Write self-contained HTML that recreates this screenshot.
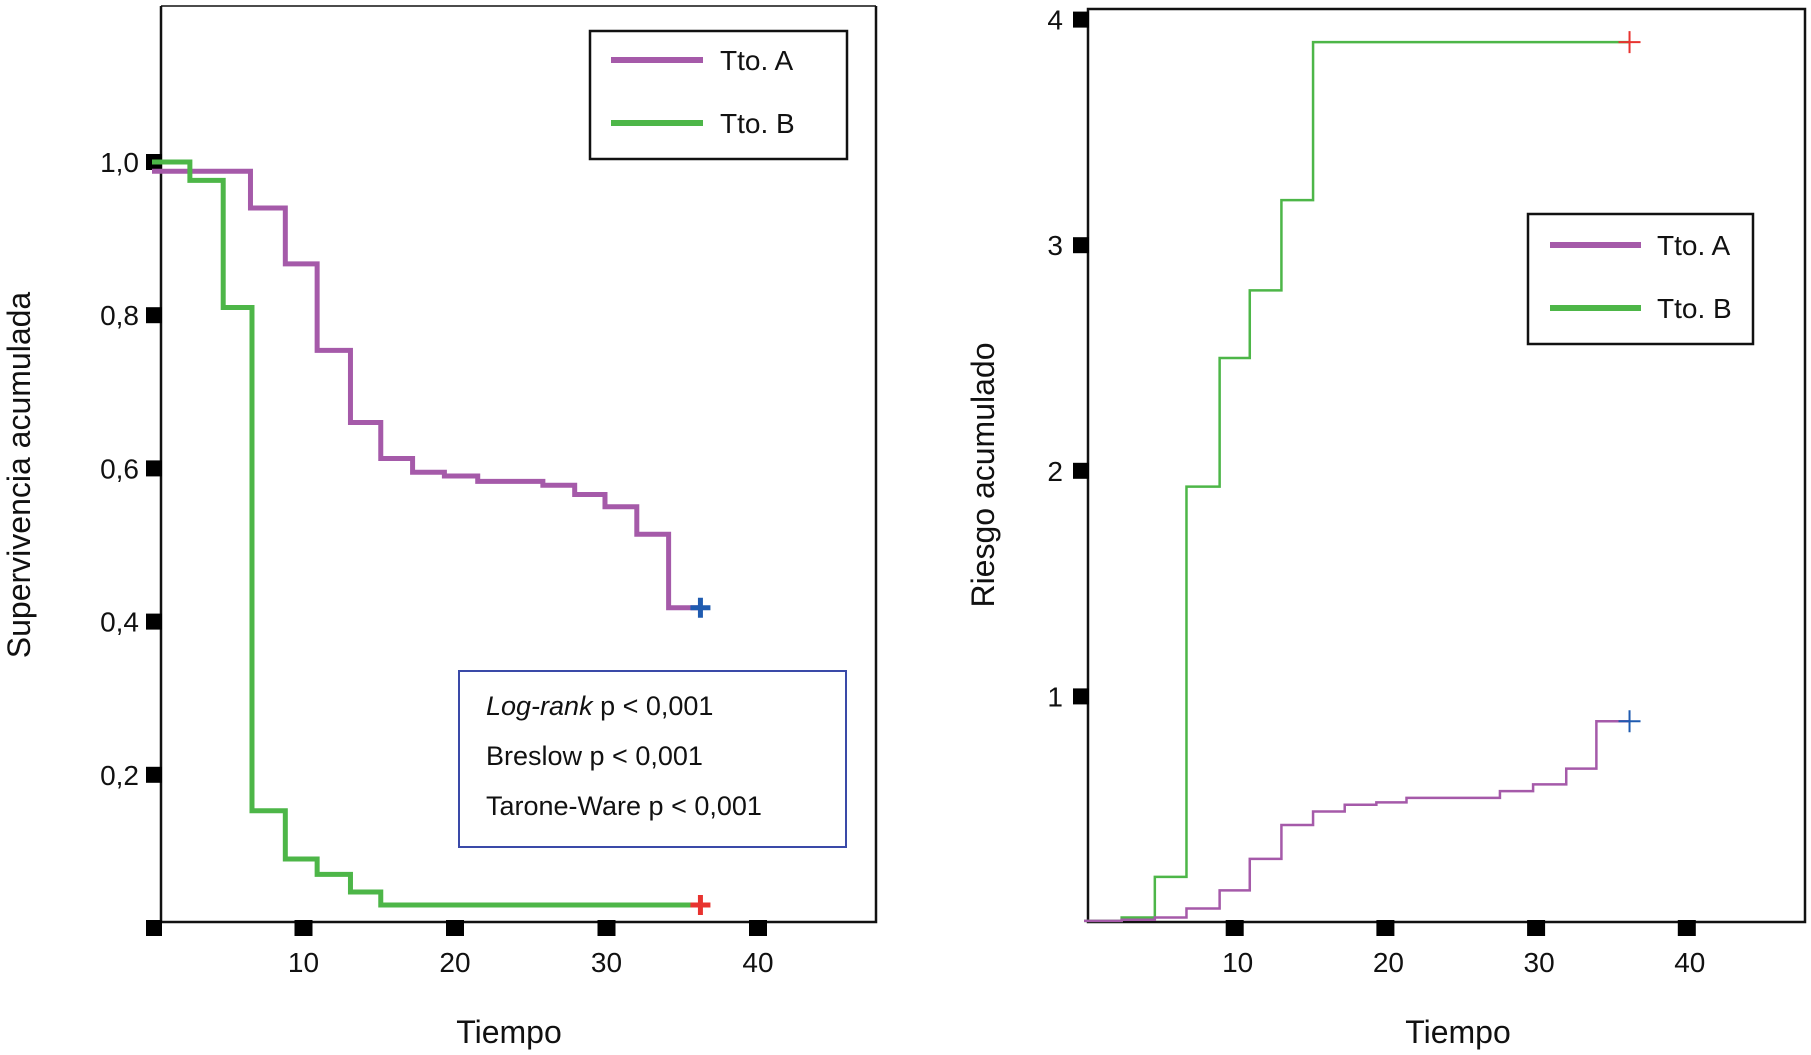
<!DOCTYPE html>
<html><head><meta charset="utf-8"><style>
html,body{margin:0;padding:0;background:#fff;}
svg{display:block;font-family:"Liberation Sans",sans-serif;}
</style></head><body>
<svg id="c" width="1811" height="1055" viewBox="0 0 1811 1055"></svg>
<script>
// Left chart: Kaplan-Meier survival
const survTimesA=[0,6.5,8.8,10.9,13.1,15.1,17.2,19.3,21.5,25.8,27.9,29.9,32,34.1];
const survValsA=[0.988,0.94,0.867,0.754,0.66,0.613,0.595,0.59,0.583,0.578,0.566,0.55,0.514,0.418];
const survTimesB=[0,2.5,4.7,6.6,8.8,10.9,13.1,15.1];
const survValsB=[1.0,0.976,0.81,0.153,0.09,0.07,0.047,0.03];
const survEnd=36.2;
const survYTicks=[0.2,0.4,0.6,0.8,1.0];
const survYLabels=["0,2","0,4","0,6","0,8","1,0"];
const xTicks=[10,20,30,40];
// Right chart: cumulative hazard
const hazTimesA=[0,2.5,4.7,6.8,9,11,13.1,15.2,17.3,19.4,21.4,27.6,29.8,32,34];
const hazValsA=[0.005,0.01,0.02,0.06,0.14,0.28,0.43,0.49,0.52,0.53,0.55,0.58,0.61,0.68,0.89];
const hazTimesB=[0,2.5,4.7,6.8,9,11,13.1,15.2];
const hazValsB=[0.005,0.02,0.2,1.93,2.5,2.8,3.2,3.9];
const hazEnd=36.2;
const hazYTicks=[1,2,3,4];

const NS="http://www.w3.org/2000/svg";
const svg=document.getElementById('c');
function mk(tag,attrs,parent){const e=document.createElementNS(NS,tag);for(const k in attrs)e.setAttribute(k,attrs[k]);(parent||svg).appendChild(e);return e;}
const PURPLE="#a55aa9",GREEN="#4db648";

const lx=t=>152+15.15*t, ly=v=>928-766*v;
const rx=t=>1084+15.07*t, ry=v=>922-225.6*v;

function stepPath(ts,vs,end,X,Y){let d="M"+X(ts[0])+","+Y(vs[0]);for(let i=1;i<ts.length;i++){d+=" H"+X(ts[i])+" V"+Y(vs[i]);}d+=" H"+X(end);return d;}
function cross(x,y,s,col,w,name){const g=mk('g',{});mk('path',{d:`M${x-s},${y}H${x+s}M${x},${y-s}V${y+s}`,stroke:col,'stroke-width':w,fill:'none'},g);}
function text(x,y,str,attrs,name){const e=mk('text',Object.assign({x:x,y:y,'font-size':28,fill:'#111'},attrs));e.textContent=str;return e;}

// ---- left chart ----
let g=mk('g',{});
mk('path',{d:"M161,6 V922 H876 V6",stroke:'#111','stroke-width':2.5,fill:'none'},g);
mk('path',{d:"M161,6 H876",stroke:'#111','stroke-width':1.5,fill:'none'},g);
mk('rect',{x:146,y:920,width:16,height:16,fill:'#000'},g);
survYTicks.forEach((v,i)=>{const r=mk('rect',{x:146,y:ly(v)-8,width:16,height:16,fill:'#000'},g);
 text(139,ly(v)+10,survYLabels[i],{'text-anchor':'end'},'y-tick-label');});
xTicks.forEach(t=>{const r=mk('rect',{x:lx(t)-9,y:920,width:18,height:16,fill:'#000'},g);
 text(lx(t),972,String(t),{'text-anchor':'middle'},'x-tick-label');});
let p=mk('path',{d:stepPath(survTimesA,survValsA,survEnd,lx,ly),stroke:PURPLE,'stroke-width':5,fill:'none'});

p=mk('path',{d:stepPath(survTimesB,survValsB,survEnd,lx,ly),stroke:GREEN,'stroke-width':5,fill:'none'});

cross(lx(survEnd),ly(survValsA[survValsA.length-1]),10,'#1f5bb0',5,'censor-mark-a');
cross(lx(survEnd),ly(survValsB[survValsB.length-1]),10,'#e8332f',5,'censor-mark-b');
text(20,475,"Supervivencia acumulada",{'text-anchor':'middle','font-size':32,transform:'rotate(-90 30 475)'},'y-axis-title').setAttribute('x',30);
text(509,1043,"Tiempo",{'text-anchor':'middle','font-size':32},'x-axis-title');
// legend
g=mk('g',{});
mk('rect',{x:590,y:31,width:257,height:128,fill:'#fff',stroke:'#111','stroke-width':2.5},g);
mk('line',{x1:611,y1:60,x2:703,y2:60,stroke:PURPLE,'stroke-width':6},g);
mk('line',{x1:611,y1:123,x2:703,y2:123,stroke:GREEN,'stroke-width':6},g);
text(720,70,"Tto. A",{},'legend-entry-a');text(720,133,"Tto. B",{},'legend-entry-b');
// stats
g=mk('g',{});
mk('rect',{x:459,y:671,width:387,height:176,fill:'#fff',stroke:'#3a4aa8','stroke-width':2},g);
let t1=text(486,715,"",{'font-size':27},'logrank-text');
let ts=mk('tspan',{'font-style':'italic'},t1);ts.textContent="Log-rank";
let ts2=mk('tspan',{},t1);ts2.textContent=" p < 0,001";
text(486,765,"Breslow p < 0,001",{'font-size':27},'breslow-text');
text(486,815,"Tarone-Ware p < 0,001",{'font-size':27},'tarone-ware-text');

// ---- right chart ----
g=mk('g',{});
mk('path',{d:"M1088,9 V922 H1805 V9 Z",stroke:'#111','stroke-width':2.5,fill:'none'},g);
hazYTicks.forEach(v=>{const r=mk('rect',{x:1073,y:ry(v)-8,width:16,height:16,fill:'#000'},g);
 text(1063,ry(v)+10,String(v),{'text-anchor':'end'},'y-tick-label');});
xTicks.forEach(t=>{const r=mk('rect',{x:rx(t)-9,y:920,width:18,height:16,fill:'#000'},g);
 text(rx(t)+3,972,String(t),{'text-anchor':'middle'},'x-tick-label');});
p=mk('path',{d:stepPath(hazTimesB,hazValsB,hazEnd,rx,ry),stroke:GREEN,'stroke-width':2.5,fill:'none'});

p=mk('path',{d:stepPath(hazTimesA,hazValsA,hazEnd,rx,ry),stroke:PURPLE,'stroke-width':2.5,fill:'none'});

cross(rx(hazEnd),ry(hazValsB[hazValsB.length-1]),11,'#e8332f',2,'censor-mark-b-hazard');
cross(rx(hazEnd),ry(hazValsA[hazValsA.length-1]),11,'#1f5bb0',2,'censor-mark-a-hazard');
text(994,475,"Riesgo acumulado",{'text-anchor':'middle','font-size':32,transform:'rotate(-90 994 475)'},'y-axis-title-right');
text(1458,1043,"Tiempo",{'text-anchor':'middle','font-size':32},'x-axis-title-right');
g=mk('g',{});
mk('rect',{x:1528,y:214,width:225,height:130,fill:'#fff',stroke:'#111','stroke-width':2.5},g);
mk('line',{x1:1550,y1:245,x2:1641,y2:245,stroke:PURPLE,'stroke-width':6},g);
mk('line',{x1:1550,y1:308,x2:1641,y2:308,stroke:GREEN,'stroke-width':6},g);
text(1657,255,"Tto. A",{},'legend-entry-a-right');text(1657,318,"Tto. B",{},'legend-entry-b-right');
</script>
</body></html>
